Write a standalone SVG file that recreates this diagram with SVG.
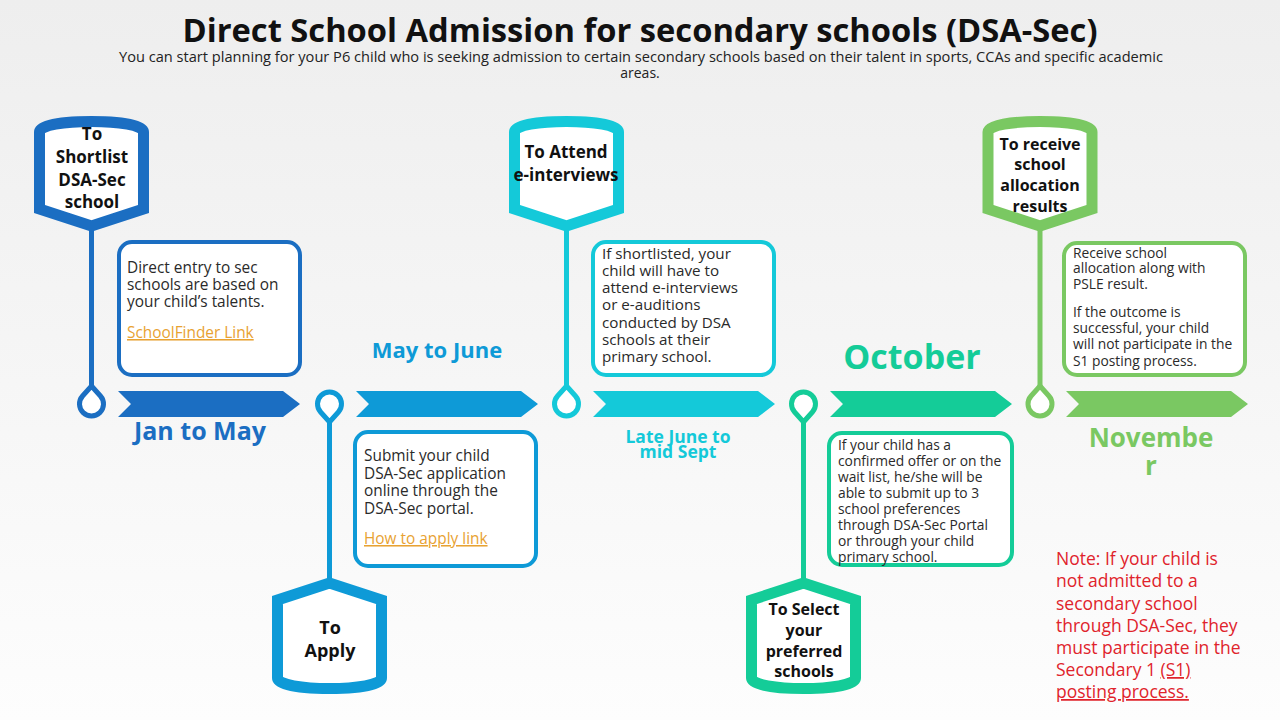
<svg xmlns="http://www.w3.org/2000/svg" xmlns:xlink="http://www.w3.org/1999/xlink" width="1280" height="720" viewBox="0 0 1280 720">
<defs>
  <linearGradient id="bg" x1="0" y1="0" x2="0" y2="1">
    <stop offset="0" stop-color="#eeeeee"/>
    <stop offset="1" stop-color="#fdfdfd"/>
  </linearGradient>
  <path id="badgeTop" d="M -52,209 V 132 C -52,118 52,118 52,132 V 209 L 0,226 Z"/>
  <path id="badgeBot" d="M -52,600 L 0,583 L 52,600 V 678 C 52,692 -52,692 -52,678 Z"/>
  <path id="pinUp" d="M 0,386 L 8.94,396 A 12 12 0 1 1 -8.94,396 Z"/>
  <path id="pinDown" d="M 0,422 L 8.94,412 A 12 12 0 1 0 -8.94,412 Z"/>
  <path id="chev" d="M 0,391 H 165 L 182,404 L 165,417 H 0 L 13,404 Z"/>
  <style>
    .badge { fill: #ffffff; stroke-width: 11; stroke-linejoin: miter; }
    .pin { fill: #ffffff; stroke-width: 5; }
    .box { fill: #ffffff; stroke-width: 4; }
    .conn line { stroke-width: 5; }
    .bt { font-family: "Open Sans", "Liberation Sans", sans-serif; font-weight: 700; fill: #111111; text-anchor: middle; }
    .tx { font-family: "Open Sans", "Liberation Sans", sans-serif; fill: #2a2a2a; }
    .lnk { font-family: "Open Sans", "Liberation Sans", sans-serif; fill: #e8a232; text-decoration: underline; }
    .lbl { font-family: "Open Sans", "Liberation Sans", sans-serif; font-weight: 700; text-anchor: middle; }
    .note { font-family: "Open Sans", "Liberation Sans", sans-serif; fill: #e0232b; font-size: 17.5px; }
  </style>
</defs>

<rect x="0" y="0" width="1280" height="720" fill="url(#bg)"/>

<g id="title">
  <text x="640" y="42" font-family="Open Sans, Liberation Sans, sans-serif" font-weight="700" font-size="32" fill="#111111" text-anchor="middle" textLength="915" lengthAdjust="spacingAndGlyphs">Direct School Admission for secondary schools (DSA-Sec)</text>
  <text x="641" y="62" font-family="Open Sans, Liberation Sans, sans-serif" font-size="14" fill="#222222" text-anchor="middle" textLength="1044" lengthAdjust="spacingAndGlyphs">You can start planning for your P6 child who is seeking admission to certain secondary schools based on their talent in sports, CCAs and specific academic</text>
  <text x="640" y="78" font-family="Open Sans, Liberation Sans, sans-serif" font-size="14" fill="#222222" text-anchor="middle">areas.</text>
</g>

<g id="connectors" class="conn">
  <line x1="91.5" y1="224" x2="91.5" y2="388" stroke="#1b6ec2"/>
  <line x1="329.5" y1="420" x2="329.5" y2="585" stroke="#0e9ad7"/>
  <line x1="566.5" y1="224" x2="566.5" y2="388" stroke="#14c9d9"/>
  <line x1="803.5" y1="420" x2="803.5" y2="585" stroke="#14cc98"/>
  <line x1="1040" y1="224" x2="1040" y2="388" stroke="#7ac862"/>
</g>

<g id="stage1">
  <use xlink:href="#badgeTop" href="#badgeTop" x="91.5" class="badge" stroke="#1b6ec2"/>
  <text class="bt" font-size="17"><tspan x="92" y="140">To</tspan><tspan x="92" y="163">Shortlist</tspan><tspan x="92" y="186">DSA-Sec</tspan><tspan x="92" y="208">school</tspan></text>
  <use xlink:href="#pinUp" href="#pinUp" x="91.5" class="pin" stroke="#1b6ec2"/>
  <use xlink:href="#chev" href="#chev" x="118" fill="#1b6ec2"/>
  <rect class="box" x="119" y="242" width="181" height="133" rx="13" stroke="#1b6ec2"/>
  <text class="tx" font-size="15.4"><tspan x="127" y="273">Direct entry to sec</tspan><tspan x="127" y="290">schools are based on</tspan><tspan x="127" y="307">your child’s talents.</tspan></text>
  <text class="lnk" x="127" y="338" font-size="15.4">SchoolFinder Link</text>
  <text class="lbl" x="200" y="440" font-size="25" fill="#1b6ec2">Jan to May</text>
</g>

<g id="stage2">
  <use xlink:href="#badgeBot" href="#badgeBot" x="329.5" class="badge" stroke="#0e9ad7"/>
  <text class="bt" font-size="18"><tspan x="330" y="634">To</tspan><tspan x="330" y="657">Apply</tspan></text>
  <use xlink:href="#pinDown" href="#pinDown" x="329.5" class="pin" stroke="#0e9ad7"/>
  <use xlink:href="#chev" href="#chev" x="356" fill="#0e9ad7"/>
  <rect class="box" x="355" y="432" width="181" height="134" rx="13" stroke="#0e9ad7"/>
  <text class="tx" font-size="15.4"><tspan x="364" y="461">Submit your child</tspan><tspan x="364" y="479">DSA-Sec application</tspan><tspan x="364" y="496">online through the</tspan><tspan x="364" y="514">DSA-Sec portal.</tspan></text>
  <text class="lnk" x="364" y="544" font-size="15.4">How to apply link</text>
  <text class="lbl" x="437" y="358" font-size="22" fill="#0e9ad7">May to June</text>
</g>

<g id="stage3">
  <use xlink:href="#badgeTop" href="#badgeTop" x="566.5" class="badge" stroke="#14c9d9"/>
  <text class="bt" font-size="17"><tspan x="566" y="158">To Attend</tspan><tspan x="566" y="181">e-interviews</tspan></text>
  <use xlink:href="#pinUp" href="#pinUp" x="566.5" class="pin" stroke="#14c9d9"/>
  <use xlink:href="#chev" href="#chev" x="593" fill="#14c9d9"/>
  <rect class="box" x="593" y="242" width="181" height="133" rx="13" stroke="#14c9d9"/>
  <text class="tx" font-size="15.2"><tspan x="602" y="259">If shortlisted, your</tspan><tspan x="602" y="276">child will have to</tspan><tspan x="602" y="293">attend e-interviews</tspan><tspan x="602" y="310">or e-auditions</tspan><tspan x="602" y="328">conducted by DSA</tspan><tspan x="602" y="345">schools at their</tspan><tspan x="602" y="362">primary school.</tspan></text>
  <text class="lbl" font-size="17.5" fill="#14c9d9"><tspan x="678" y="443">Late June to</tspan><tspan x="678" y="458">mid Sept</tspan></text>
</g>

<g id="stage4">
  <use xlink:href="#badgeBot" href="#badgeBot" x="803.5" class="badge" stroke="#14cc98"/>
  <text class="bt" font-size="16"><tspan x="804" y="615">To Select</tspan><tspan x="804" y="636">your</tspan><tspan x="804" y="657">preferred</tspan><tspan x="804" y="677">schools</tspan></text>
  <use xlink:href="#pinDown" href="#pinDown" x="803.5" class="pin" stroke="#14cc98"/>
  <use xlink:href="#chev" href="#chev" x="830" fill="#14cc98"/>
  <rect class="box" x="829" y="433" width="183" height="132" rx="13" stroke="#14cc98"/>
  <text class="tx" font-size="13.8"><tspan x="838" y="450">If your child has a</tspan><tspan x="838" y="466">confirmed offer or on the</tspan><tspan x="838" y="482">wait list, he/she will be</tspan><tspan x="838" y="498">able to submit up to 3</tspan><tspan x="838" y="514">school preferences</tspan><tspan x="838" y="530">through DSA-Sec Portal</tspan><tspan x="838" y="546">or through your child</tspan><tspan x="838" y="562">primary school.</tspan></text>
  <text class="lbl" x="912" y="369" font-size="34" fill="#14cc98">October</text>
</g>

<g id="stage5">
  <use xlink:href="#badgeTop" href="#badgeTop" x="1040" class="badge" stroke="#7ac862"/>
  <text class="bt" font-size="16"><tspan x="1040" y="150">To receive</tspan><tspan x="1040" y="170">school</tspan><tspan x="1040" y="191">allocation</tspan><tspan x="1040" y="212">results</tspan></text>
  <use xlink:href="#pinUp" href="#pinUp" x="1040" class="pin" stroke="#7ac862"/>
  <use xlink:href="#chev" href="#chev" x="1066" fill="#7ac862"/>
  <rect class="box" x="1064" y="243" width="181" height="132" rx="13" stroke="#7ac862"/>
  <text class="tx" font-size="13.8"><tspan x="1073" y="258">Receive school</tspan><tspan x="1073" y="273">allocation along with</tspan><tspan x="1073" y="289">PSLE result.</tspan><tspan x="1073" y="317">If the outcome is</tspan><tspan x="1073" y="333">successful, your child</tspan><tspan x="1073" y="349">will not  participate in the</tspan><tspan x="1073" y="366">S1 posting process.</tspan></text>
  <text class="lbl" font-size="26" fill="#7ac862"><tspan x="1151" y="447">Novembe</tspan><tspan x="1151" y="475">r</tspan></text>
</g>

<g id="note">
  <text class="note"><tspan x="1056" y="565">Note: If your child is</tspan><tspan x="1056" y="587">not admitted to a</tspan><tspan x="1056" y="610">secondary school</tspan><tspan x="1056" y="632">through DSA-Sec, they</tspan><tspan x="1056" y="654">must participate in the</tspan><tspan x="1056" y="676">Secondary 1 <tspan text-decoration="underline">(S1)</tspan></tspan><tspan x="1056" y="698" text-decoration="underline">posting process.</tspan></text>
</g>
</svg>
